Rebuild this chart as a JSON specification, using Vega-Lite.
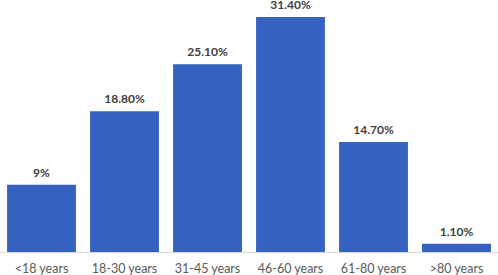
{
  "$schema": "https://vega.github.io/schema/vega-lite/v6.json",
  "width": 498,
  "height": 250,
  "padding": {"left": 0, "top": 2, "right": 0, "bottom": 23},
  "autosize": {"type": "none"},
  "background": "white",
  "config": {"view": {"stroke": null}},
  "data": {"values": [
    {"age": "<18 years", "pct": 9, "label": "9%"},
    {"age": "18-30 years", "pct": 18.8, "label": "18.80%"},
    {"age": "31-45 years", "pct": 25.1, "label": "25.10%"},
    {"age": "46-60 years", "pct": 31.4, "label": "31.40%"},
    {"age": "61-80 years", "pct": 14.7, "label": "14.70%"},
    {"age": ">80 years", "pct": 1.1, "label": "1.10%"}
  ]},
  "encoding": {
    "x": {"field": "age", "type": "nominal", "sort": null,
      "scale": {"paddingInner": 0.17, "paddingOuter": 0.085},
      "axis": {"title": null, "labelAngle": 0, "ticks": false, "domainColor": "#d9d9d9", "labelColor": "#595959", "labelFont": "Lato", "labelFontSize": 12.5, "labelPadding": 10}},
    "y": {"field": "pct", "type": "quantitative", "scale": {"domain": [0, 33.4], "nice": false}, "axis": null}
  },
  "layer": [
    {"mark": {"type": "bar", "color": "#3562C1"}},
    {"mark": {"type": "text", "baseline": "alphabetic", "dy": -8, "font": "Lato", "fontWeight": "bold", "fontSize": 12, "color": "#404040"},
     "encoding": {"text": {"field": "label"}}}
  ]
}
